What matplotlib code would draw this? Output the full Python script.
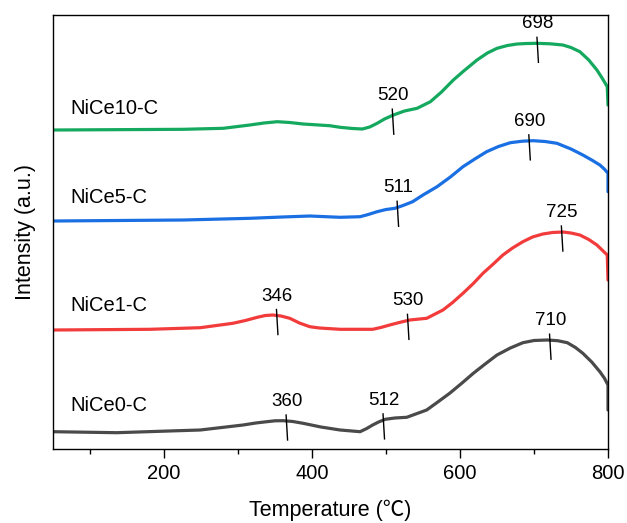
import numpy as np
from matplotlib import pyplot as plt

plt.rcParams['font.family'] = ['Liberation Sans', 'Noto Sans CJK SC', 'DejaVu Sans']

# curves (temperature in C, intensity in arbitrary units, already stacked)
t_ce10 = [50, 226, 280, 316, 335, 353, 370, 388, 424, 438, 455, 468, 478, 488, 498, 510, 525, 542, 560, 575, 591, 605,
          623, 637, 650, 664, 677, 690, 704, 722, 739, 750, 762, 774, 785, 792, 799, 800]
i_ce10 = [319, 319.7, 320.7, 324, 326, 327.3, 326.5, 325, 323.3, 321.7, 320.5, 320, 322, 325.7, 330, 334, 338, 340.7, 347.3, 357,
          369, 378, 389, 396, 400.7, 403.5, 405, 405.5, 405.7, 405.2, 404, 401.5, 397.3, 389, 379, 371, 362.3, 344]

t_ce5 = [50, 226, 316, 360, 397, 438, 465, 476, 488, 500, 512, 523, 536, 550, 569, 587, 604, 620, 636, 652, 668, 684, 699,
         715, 731, 750, 766, 778, 789, 795, 800, 800]
i_ce5 = [228, 229, 230.7, 232, 233, 231.7, 232.3, 234.5, 237.3, 239.5, 240.7, 243.5, 247.3, 254, 262.3, 272, 282.3, 290, 297.3,
         302.5, 306.3, 307.8, 308.3, 307.5, 305.7, 300, 294, 289, 284, 280, 275.7, 257.3]

t_ce1 = [50, 181, 249, 293, 310, 326, 337, 347, 358, 370, 383, 397, 410, 438, 482, 493, 505, 518, 532, 555, 577, 590, 604,
         618, 631, 645, 658, 671, 685, 698, 712, 725, 739, 750, 762, 774, 785, 792, 799, 800]
i_ce1 = [119, 119.7, 121.3, 125.7, 128.5, 131.7, 133.5, 134, 133, 130.7, 126, 122.3, 121, 119.7, 119.7, 121.5, 124, 126.5, 129,
         130.7, 139, 146.5, 155.7, 165.5, 175.7, 185, 194, 201, 207.3, 212, 215, 216.5, 217, 216, 214, 209.5, 204, 199, 194, 169]

t_ce0 = [50, 136, 249, 307, 324, 339, 350, 361, 374, 388, 412, 438, 465, 474, 482, 490, 499, 512, 528, 555, 570, 586, 602,
         618, 634, 650, 668, 685, 700, 718, 732, 745, 756, 766, 778, 789, 795, 800, 800]
i_ce0 = [17.3, 16.3, 19, 24, 26, 27.3, 28.2, 28.3, 27.5, 25.7, 22, 19, 17.3, 20.5, 24, 27, 29.7, 31, 31.7, 39, 47, 55.7, 65.5,
         75.7, 85, 94, 101, 106.3, 108.5, 109, 108.3, 106.3, 101.5, 95.7, 87, 77.3, 71, 64, 39]

names = ['NiCe10-C', 'NiCe5-C', 'NiCe1-C', 'NiCe0-C']
colors = ['#14a95e', '#1a6fe3', '#f23b3b', '#4a4a4a']

# where the short peak markers sit on each curve, and their printed values
peak_pos = [[509.5, 705], [516, 694], [353, 530, 738], [366, 497, 722]]
peak_txt = [['520', '698'], ['511', '690'], ['346', '530', '725'], ['360', '512', '710']]

curves = [(t_ce10, i_ce10), (t_ce5, i_ce5), (t_ce1, i_ce1), (t_ce0, i_ce0)]
name_y = [331, 242, 134, 34]

fig = plt.figure(figsize=(6.27, 5.23), dpi=100)
ax = fig.add_axes([0.0845, 0.1415, 0.8852, 0.8298])

for (t, y), c, n, ny, pp, ptxt in zip(curves, colors, names, name_y, peak_pos, peak_txt):
    ax.plot(t, y, color=c, lw=2.3, solid_joinstyle='round', solid_capstyle='round')
    ax.text(73, ny, n, fontsize=14.5, ha='left', va='bottom')
    for p, s in zip(pp, ptxt):
        yc = np.interp(p, t[:-1], y[:-1])
        ax.plot([p - 1, p + 1], [yc + 6, yc - 19], color='black', lw=1)
        ax.text(p, yc + 11, s, fontsize=13.5, ha='center', va='bottom')

ax.set_xlim(50, 800)
ax.set_ylim(0, 434)
ax.set_yticks([])
ax.set_xticks([200, 400, 600, 800])
ax.set_xticks([100, 300, 500, 700], minor=True)
ax.tick_params(axis='x', which='major', direction='out', length=6.5, width=1, labelsize=14.5, pad=4)
ax.tick_params(axis='x', which='minor', direction='out', length=3.5, width=1)
for sp in ax.spines.values():
    sp.set_linewidth(1)

ax.set_xlabel('Temperature (℃)', fontsize=15.5, labelpad=12)
ax.set_ylabel('Intensity (a.u.)', fontsize=15.5, labelpad=12)

plt.savefig('out.png', dpi=100)
plt.close()
